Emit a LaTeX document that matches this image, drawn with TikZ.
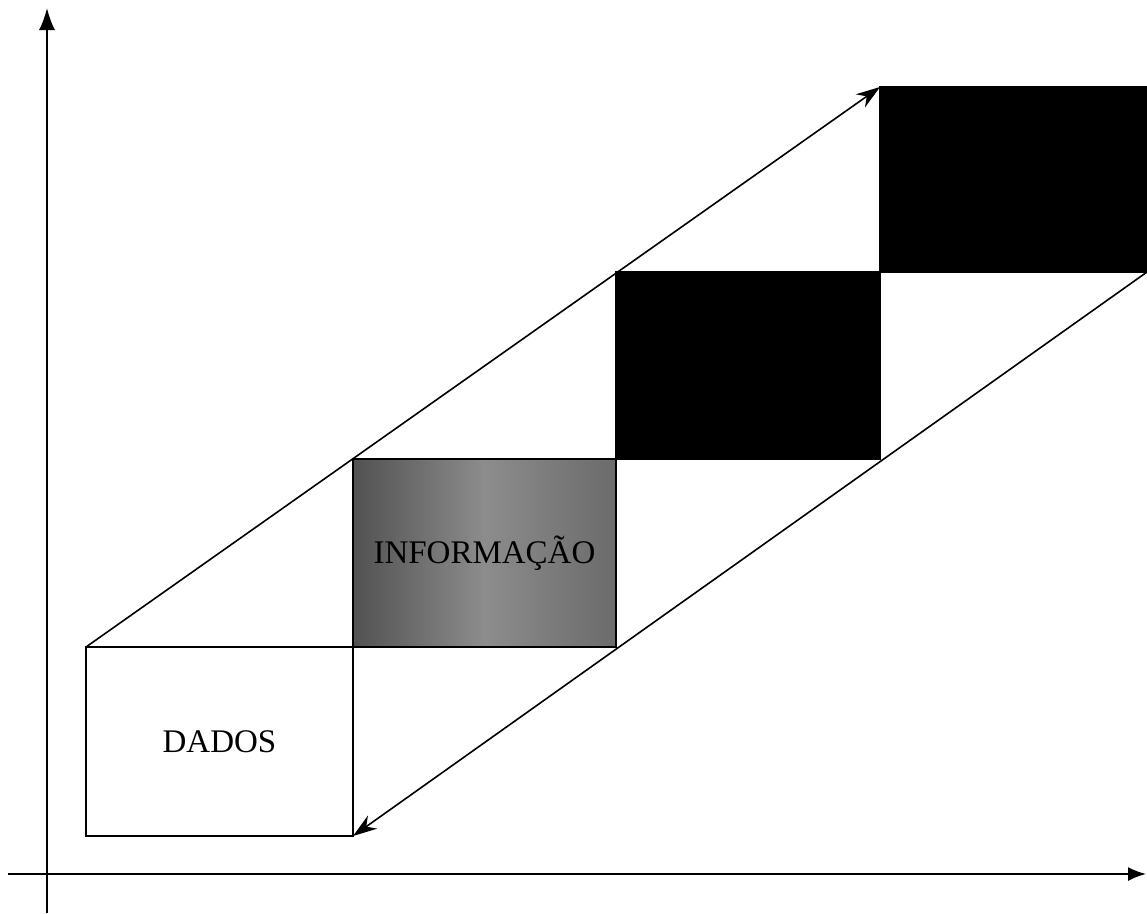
\documentclass[tikz,border=0pt]{standalone}
\usepackage{fontspec}
\setmainfont{Liberation Serif}
\usetikzlibrary{arrows.meta}
\begin{document}
\begin{tikzpicture}[x=1pt,y=-1pt,
  box/.style={draw=black,line width=1.6pt,inner sep=0pt,outer sep=0pt,anchor=center},
  lbl/.style={font=\fontsize{33}{36}\selectfont},
  axis/.style={line width=1.8pt},
  diag/.style={line width=1.6pt}]
\useasboundingbox (0,0) rectangle (1147,913);
% axes
\coordinate (ybot) at (47,913);
\coordinate (ytop) at (47,8);
\coordinate (xl) at (8,874);
\coordinate (xr) at (1146,874);
\draw[axis,-{Latex[length=22pt,width=16pt]}] (ybot) -- (ytop);
\draw[axis,-{Latex[length=18pt,width=14pt]}] (xl) -- (xr);
% boxes
\node[box,fill=white,minimum width=267pt,minimum height=189pt,lbl] (dados) at (219.5,741.5) {DADOS};
\node[box,left color=black!68,right color=black!58,middle color=black!45,minimum width=263pt,minimum height=188pt] (info) at (484.5,553) {};
\node[lbl] at (info.center) {INFORMAÇÃO};
\node[box,fill=black,minimum width=264pt,minimum height=187pt] (b1) at (748,365.5) {};
\node[box,fill=black,minimum width=267pt,minimum height=185pt] (b2) at (1013.5,179.5) {};
% diagonals
\draw[diag,-{Stealth[length=24pt,width=16pt]}] (dados.north west) -- (b2.north west);
\draw[diag,-{Stealth[length=24pt,width=16pt]}] (b2.south east) -- (dados.south east);
\end{tikzpicture}
\end{document}
